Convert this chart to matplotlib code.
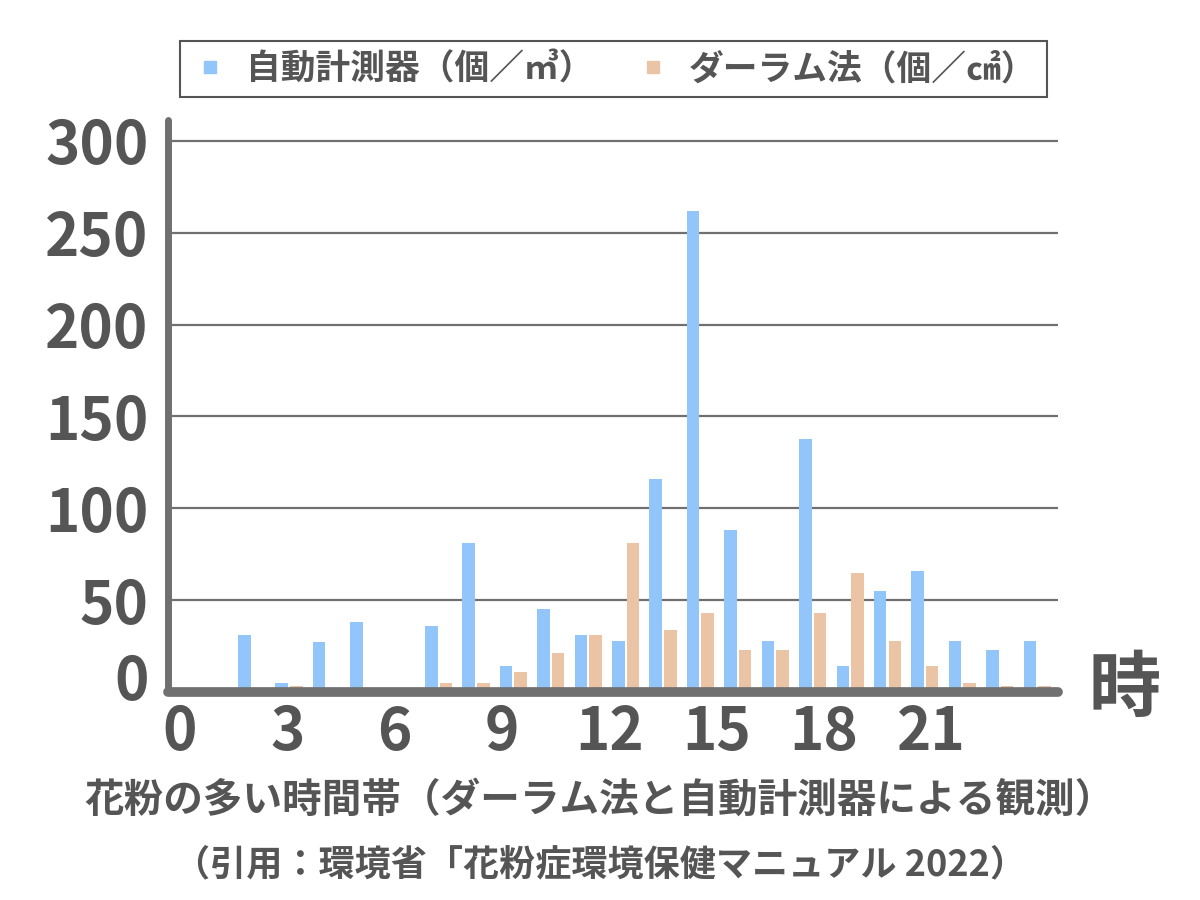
# Pollen counts by hour: automatic counter vs Durham method
import matplotlib.pyplot as plt
import matplotlib.transforms as mtransforms
import numpy as np

plt.rcParams['font.family'] = ['Noto Sans CJK JP', 'DejaVu Sans']

hours = list(range(24))
auto_counts = [0, 0, 31, 5, 27, 38, 1, 36, 81, 14, 45, 31,
               28, 116, 262, 88, 28, 138, 14, 55, 66, 28, 23, 28]
durham_counts = [0, 0, 0, 3, 1, 0, 1, 5, 5, 11, 21, 31,
                 81, 34, 43, 23, 23, 43, 65, 28, 14, 5, 3, 3]
hour_labels = ['0', '3', '6', '9', '12', '15', '18', '21']
y_ticks = [0, 50, 100, 150, 200, 250, 300]

legend_auto = '自動計測器（個／㎥）'
legend_durham = 'ダーラム法（個／㎠）'
x_title = '花粉の多い時間帯（ダーラム法と自動計測器による観測）'
source = '（引用：環境省「花粉症環境保健マニュアル 2022）'
unit = '時'

text_color = '#555555'
axis_color = '#707070'
blue = '#92C5FA'
orange = '#EBC4A6'

fig = plt.figure(figsize=(12, 9), dpi=100)
ax = fig.add_axes([0.14, 0.2311, 0.7417, 0.6356])

x = np.arange(len(hours))
width = 0.335
ax.bar(x - 0.195, auto_counts, width, color=blue, zorder=2, label=legend_auto)
ax.bar(x + 0.195, durham_counts, width, color=orange, zorder=2, label=legend_durham)

ax.set_xlim(-0.235, 23.56)
ax.set_ylim(0, 311.4)

ax.set_yticks(y_ticks)
ax.set_yticklabels([str(v) for v in y_ticks])
ax.yaxis.grid(True, color=axis_color, linewidth=1.6, zorder=1)
ax.set_axisbelow(True)

# hour labels in the original sit on a slightly tighter spacing than the bars
label_pos = np.arange(0, 22, 3) * 0.957 + 0.08
ax.set_xticks(label_pos)
ax.set_xticklabels(hour_labels)

ax.tick_params(axis='both', length=0, labelsize=42, labelcolor=text_color)
ax.tick_params(axis='y', pad=14)
ax.tick_params(axis='x', pad=8)
for lab in ax.get_xticklabels() + ax.get_yticklabels():
    lab.set_fontweight('bold')

# lift the "0" label off the baseline like the original
shift = mtransforms.ScaledTranslation(0, 0.16, fig.dpi_scale_trans)
zero_lab = ax.get_yticklabels()[0]
zero_lab.set_transform(zero_lab.get_transform() + shift)

ax.spines['top'].set_visible(False)
ax.spines['right'].set_visible(False)
ax.spines['left'].set_color(axis_color)
ax.spines['left'].set_linewidth(5)
ax.spines['left'].set_capstyle('round')
ax.spines['bottom'].set_color(axis_color)
ax.spines['bottom'].set_linewidth(7)
ax.spines['bottom'].set_capstyle('round')
ax.spines['bottom'].set_zorder(3)
ax.spines['left'].set_zorder(3)

handles = [
    plt.Line2D([], [], marker='s', linestyle='', markersize=9, color=blue),
    plt.Line2D([], [], marker='s', linestyle='', markersize=9, color=orange),
]
leg = fig.legend(handles, [legend_auto, legend_durham],
                 loc='lower left',
                 bbox_to_anchor=(180 / 1200, 1 - 97 / 900, 867 / 1200, 67 / 900),
                 mode='expand', ncol=2, borderaxespad=0,
                 fancybox=False, edgecolor=text_color, framealpha=1,
                 prop={'size': 25, 'weight': 'bold'},
                 handletextpad=0.5, handlelength=1.1, borderpad=0.3)
leg.get_frame().set_linewidth(1.5)
for t in leg.get_texts():
    t.set_color(text_color)

fig.text(1125 / 1200, 1 - 690 / 900, unit, fontsize=52, fontweight='bold',
         color=text_color, ha='center', va='center')
fig.text(0.5, 1 - 800 / 900, x_title, fontsize=28.5, fontweight='bold',
         color=text_color, ha='center', va='center')
fig.text(0.5, 1 - 865 / 900, source, fontsize=26, fontweight='bold',
         color=text_color, ha='center', va='center')

fig.savefig('out.png', dpi=100, facecolor='white')
